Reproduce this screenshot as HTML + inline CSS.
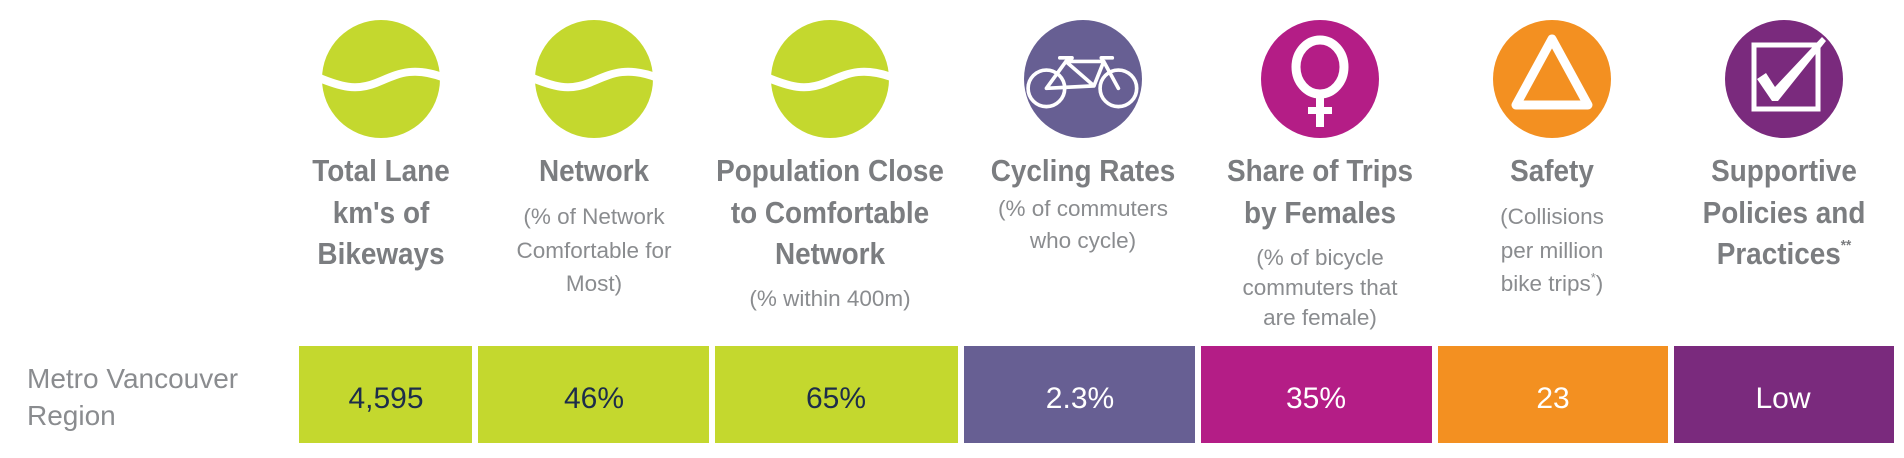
<!DOCTYPE html>
<html><head><meta charset="utf-8"><style>
html,body{margin:0;padding:0;background:#fff;}
svg{display:block;}
.t{font-family:"Liberation Sans",sans-serif;font-weight:bold;font-size:31px;fill:#7b7d80;}
.s{font-family:"Liberation Sans",sans-serif;font-size:22.5px;fill:#8a8c8f;}
.v{font-family:"Liberation Sans",sans-serif;font-size:30px;}
</style></head><body>
<svg width="1904" height="458" viewBox="0 0 1904 458" xmlns="http://www.w3.org/2000/svg">
<g fill="#c4d82e">
<circle cx="381" cy="79" r="59"/><circle cx="594" cy="79" r="59"/><circle cx="830" cy="79" r="59"/>
</g>
<g fill="none" stroke="#fff" stroke-width="8">
<path transform="translate(381,79)" d="M-64,-2 C-40,8 -25,12 -5,4 S 30,-14 64,-1"/>
<path transform="translate(594,79)" d="M-64,-2 C-40,8 -25,12 -5,4 S 30,-14 64,-1"/>
<path transform="translate(830,79)" d="M-64,-2 C-40,8 -25,12 -5,4 S 30,-14 64,-1"/>
</g>
<circle cx="1083" cy="79" r="59" fill="#675f93"/>
<g transform="translate(1083,81) scale(1.22)" fill="none" stroke="#fff" stroke-width="3" stroke-linejoin="round" stroke-linecap="round">
<circle cx="-30" cy="6" r="15"/><circle cx="29" cy="6" r="15"/>
<path d="M-30,6 L-14,-16 L9,4 Z M-14,-16 L17,-16 M-19,-19 L-9,-19 M9,4 L17,-16 L29,6 M15,-19 L24,-19"/>
</g>
<circle cx="1320" cy="79" r="59" fill="#b41d86"/>
<g transform="translate(1320,79)" fill="#fff">
<ellipse cx="0" cy="-12" rx="24" ry="27" fill="none" stroke="#fff" stroke-width="9"/>
<rect x="-4" y="14" width="8" height="34"/>
<rect x="-12" y="28" width="24" height="7"/>
</g>
<circle cx="1552" cy="79" r="59" fill="#f39021"/>
<path transform="translate(1552,79)" d="M0,-40 L-36,26 L36,26 Z" fill="none" stroke="#fff" stroke-width="9" stroke-linejoin="round"/>
<circle cx="1784" cy="79" r="59" fill="#7a2a7d"/>
<g transform="translate(1784,79)">
<rect x="-30" y="-34" width="64" height="64" fill="none" stroke="#fff" stroke-width="5"/>
<path d="M-27,0 L-18,-6 L-9,8 L38,-42 L42,-38 L-6,22 L-12,22 Z" fill="#fff"/>
</g>
<g transform="translate(381,0) scale(0.9,1)" class="t" text-anchor="middle">
<text x="0" y="181">Total Lane</text><text x="0" y="223">km's of</text><text x="0" y="264">Bikeways</text></g>
<g transform="translate(594,0) scale(0.9,1)" class="t" text-anchor="middle"><text x="0" y="181">Network</text></g>
<g class="s" text-anchor="middle"><text x="594" y="224">(% of Network</text><text x="594" y="258">Comfortable for</text><text x="594" y="291">Most)</text></g>
<g transform="translate(830,0) scale(0.9,1)" class="t" text-anchor="middle">
<text x="0" y="181">Population Close</text><text x="0" y="223">to Comfortable</text><text x="0" y="264">Network</text></g>
<text class="s" text-anchor="middle" x="830" y="306">(% within 400m)</text>
<g transform="translate(1083,0) scale(0.9,1)" class="t" text-anchor="middle"><text x="0" y="181">Cycling Rates</text></g>
<g class="s" text-anchor="middle"><text x="1083" y="216">(% of commuters</text><text x="1083" y="248">who cycle)</text></g>
<g transform="translate(1320,0) scale(0.9,1)" class="t" text-anchor="middle"><text x="0" y="181">Share of Trips</text><text x="0" y="223">by Females</text></g>
<g class="s" text-anchor="middle"><text x="1320" y="265">(% of bicycle</text><text x="1320" y="295">commuters that</text><text x="1320" y="325">are female)</text></g>
<g transform="translate(1552,0) scale(0.9,1)" class="t" text-anchor="middle"><text x="0" y="181">Safety</text></g>
<g class="s" text-anchor="middle"><text x="1552" y="224">(Collisions</text><text x="1552" y="258">per million</text><text x="1552" y="291">bike trips<tspan font-size="13" dy="-9">*</tspan><tspan dy="9">)</tspan></text></g>
<g transform="translate(1784,0) scale(0.9,1)" class="t" text-anchor="middle">
<text x="0" y="181">Supportive</text><text x="0" y="223">Policies and</text><text x="0" y="264">Practices<tspan font-size="15" dy="-14">**</tspan></text></g>
<g class="s" style="font-size:28px" fill="#808285"><text x="27" y="388">Metro Vancouver</text><text x="27" y="425">Region</text></g>
<rect x="299" y="346" width="173" height="97" fill="#c4d82e"/>
<rect x="478" y="346" width="231" height="97" fill="#c4d82e"/>
<rect x="715" y="346" width="243" height="97" fill="#c4d82e"/>
<rect x="964" y="346" width="231" height="97" fill="#675f93"/>
<rect x="1201" y="346" width="231" height="97" fill="#b41d86"/>
<rect x="1438" y="346" width="230" height="97" fill="#f39021"/>
<rect x="1674" y="346" width="220" height="97" fill="#7a2a7d"/>
<g class="v" text-anchor="middle">
<text x="386" y="408" fill="#1d2d4a">4,595</text>
<text x="594" y="408" fill="#1d2d4a">46%</text>
<text x="836" y="408" fill="#1d2d4a">65%</text>
<text x="1080" y="408" fill="#fff">2.3%</text>
<text x="1316" y="408" fill="#fff">35%</text>
<text x="1553" y="408" fill="#fff">23</text>
<text x="1783" y="408" fill="#fff">Low</text>
</g>
</svg>
</body></html>
